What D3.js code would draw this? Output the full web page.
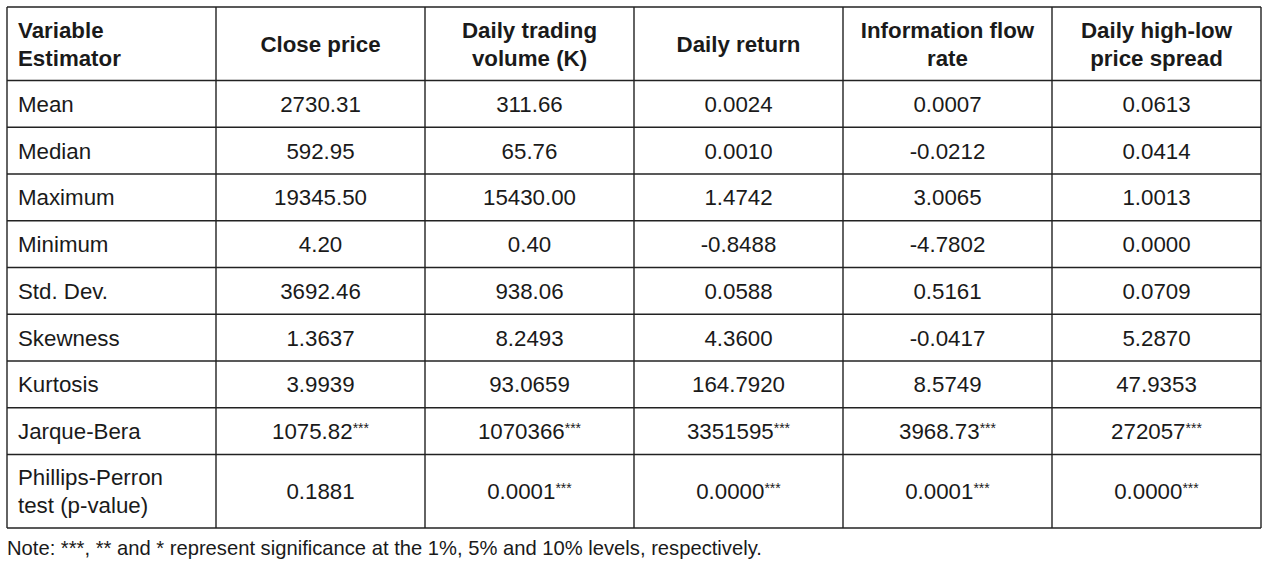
<!DOCTYPE html>
<html><head><meta charset="utf-8">
<script src="https://cdn.jsdelivr.net/npm/d3@7"></script>
<style>html,body{margin:0;padding:0;background:#fff;}svg{display:block;}</style>
</head><body>
<svg id="chart" width="1270" height="563"></svg>
<script>
// ---- data ----
const headers = ["Variable\nEstimator", "Close price", "Daily trading\nvolume (K)", "Daily return", "Information flow\nrate", "Daily high-low\nprice spread"];
const rowLabels = ["Mean", "Median", "Maximum", "Minimum", "Std. Dev.", "Skewness", "Kurtosis", "Jarque-Bera", "Phillips-Perron\ntest (p-value)"];
const closePrice = ["2730.31", "592.95", "19345.50", "4.20", "3692.46", "1.3637", "3.9939", "1075.82", "0.1881"];
const closeSig   = ["", "", "", "", "", "", "", "***", ""];
const volume     = ["311.66", "65.76", "15430.00", "0.40", "938.06", "8.2493", "93.0659", "1070366", "0.0001"];
const volumeSig  = ["", "", "", "", "", "", "", "***", "***"];
const dailyReturn = ["0.0024", "0.0010", "1.4742", "-0.8488", "0.0588", "4.3600", "164.7920", "3351595", "0.0000"];
const returnSig   = ["", "", "", "", "", "", "", "***", "***"];
const infoFlow    = ["0.0007", "-0.0212", "3.0065", "-4.7802", "0.5161", "-0.0417", "8.5749", "3968.73", "0.0001"];
const infoSig     = ["", "", "", "", "", "", "", "***", "***"];
const spread      = ["0.0613", "0.0414", "1.0013", "0.0000", "0.0709", "5.2870", "47.9353", "272057", "0.0000"];
const spreadSig   = ["", "", "", "", "", "", "", "***", "***"];
const note = "Note: ***, ** and * represent significance at the 1%, 5% and 10% levels, respectively.";

const seriesVals = [closePrice, volume, dailyReturn, infoFlow, spread];
const seriesSig = [closeSig, volumeSig, returnSig, infoSig, spreadSig];

// ---- layout ----
const svg = d3.select("#chart");
svg.append("rect").attr("width", 1270).attr("height", 563).attr("fill", "#fff");
const font = "'Liberation Sans', Arial, sans-serif";
const fs = 22.3, lineH = 28;
const color = "#1a1a1a";

const x = d3.scaleBand().domain(d3.range(headers.length)).range([7, 1261]).padding(0);

// rows: header + data rows; height units depend on line count
const allRows = [headers[0]].concat(rowLabels);
const units = allRows.map(r => r.split("\n").length > 1 ? 1.573 : 1);
const cum = [0];
units.forEach(u => cum.push(cum[cum.length - 1] + u));
const y = d3.scaleLinear().domain([0, cum[cum.length - 1]]).range([7, 528]);

const lineCol = "#222";
const g = svg.append("g");

// horizontal lines
g.selectAll("line.h").data(cum).join("line")
  .attr("x1", x.range()[0]).attr("x2", x.range()[1])
  .attr("y1", d => y(d)).attr("y2", d => y(d))
  .attr("stroke", lineCol).attr("stroke-width", 1.4);
// vertical lines
const xb = d3.range(headers.length).map(i => x(i)).concat([x.range()[1]]);
g.selectAll("line.v").data(xb).join("line")
  .attr("x1", d => d).attr("x2", d => d)
  .attr("y1", y(0)).attr("y2", y(cum[cum.length - 1]))
  .attr("stroke", lineCol).attr("stroke-width", 1.4);

function drawCell(text, col, rowIdx, opts) {
  const lines = text.split("\n");
  const cy = (y(cum[rowIdx]) + y(cum[rowIdx + 1])) / 2;
  const capH = fs * 0.716;
  const firstBase = cy + capH / 2 - (lines.length - 1) * lineH / 2;
  const left = opts.align === "left";
  const t = g.append("text")
    .attr("font-family", font).attr("font-size", fs)
    .attr("font-weight", opts.bold ? "bold" : "normal")
    .attr("fill", color)
    .attr("text-anchor", left ? "start" : "middle");
  const tx = left ? x(col) + 11 : x(col) + x.bandwidth() / 2;
  lines.forEach((ln, i) => {
    t.append("tspan").attr("x", tx).attr("y", firstBase + i * lineH).text(ln);
  });
  if (opts.sup) {
    t.append("tspan").attr("font-size", 14).attr("dy", -6).text(opts.sup);
  }
}

// header
headers.forEach((h, c) => drawCell(h, c, 0, {bold: true, align: c === 0 ? "left" : "middle"}));
// row labels
rowLabels.forEach((r, i) => drawCell(r, 0, i + 1, {align: "left"}));
// values
seriesVals.forEach((vals, s) => {
  vals.forEach((v, i) => drawCell(v, s + 1, i + 1, {sup: seriesSig[s][i]}));
});

// note
svg.append("text").attr("x", 7).attr("y", 555)
  .attr("font-family", font).attr("font-size", 20.2).attr("fill", color)
  .text(note);
</script>
</body></html>
